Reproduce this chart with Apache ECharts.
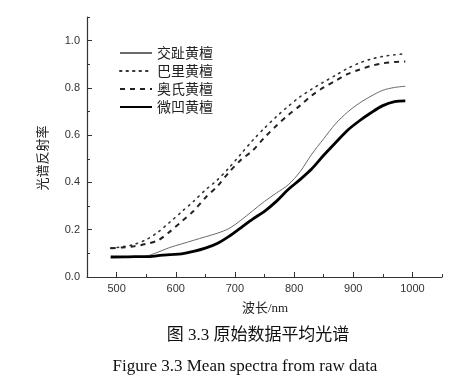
<!DOCTYPE html>
<html>
<head>
<meta charset="utf-8">
<script src="https://cdn.jsdelivr.net/npm/echarts@6/dist/echarts.min.js"></script>
<style>
html,body{margin:0;padding:0;background:#fff;}
#chart{width:469px;height:383px;}
</style>
</head>
<body>
<div id="chart"></div>
<script>
// Wavelength (nm)
const wavelengths = [490,510,530,550,570,590,610,630,650,670,690,710,730,750,770,790,810,830,850,870,890,910,930,950,970,988];
// Mean reflectance per species
const jiaozhi = [0.080,0.082,0.085,0.088,0.105,0.125,0.140,0.155,0.170,0.185,0.205,0.240,0.280,0.320,0.355,0.390,0.445,0.520,0.585,0.648,0.697,0.735,0.765,0.790,0.802,0.807];
const bali    = [0.122,0.128,0.138,0.158,0.190,0.232,0.276,0.320,0.368,0.410,0.462,0.520,0.578,0.630,0.678,0.722,0.762,0.795,0.825,0.853,0.882,0.905,0.922,0.933,0.940,0.945];
const aoshi   = [0.122,0.125,0.130,0.140,0.155,0.192,0.235,0.279,0.335,0.383,0.443,0.495,0.535,0.590,0.640,0.685,0.725,0.768,0.802,0.830,0.858,0.877,0.893,0.904,0.910,0.912];
const weiao   = [0.085,0.085,0.086,0.086,0.090,0.095,0.098,0.108,0.122,0.142,0.172,0.208,0.245,0.278,0.320,0.370,0.412,0.458,0.515,0.568,0.620,0.660,0.695,0.725,0.742,0.745];
const seriesNames = ['交趾黄檀','巴里黄檀','奥氏黄檀','微凹黄檀'];
// Tick labels
const xMajor = [500,600,700,800,900,1000];
const xMinor = [450,550,650,750,850,950,1050];
const yMajor = [0,0.2,0.4,0.6,0.8,1.0];
const yMinor = [0.1,0.3,0.5,0.7,0.9,1.1];

const pair = (ys) => wavelengths.map((w,i)=>[w, ys[i]]);

const chart = echarts.init(document.getElementById('chart'));
const axisColor = '#333';
const labelFont = {color:'#333', fontSize:11, fontFamily:'Liberation Sans, Arial, sans-serif'};

const option = {
  animation:false,
  backgroundColor:'#fff',
  grid:{left:87, right:27, top:17, bottom:106, containLabel:false},
  legend:{
    orient:'vertical', left:114, top:41, itemWidth:32, itemHeight:14, itemGap:4,
    itemStyle:{opacity:0},
    textStyle:{fontSize:14, color:'#222', fontFamily:'Noto Sans CJK SC, sans-serif'},
    data:seriesNames
  },
  xAxis:[{
    type:'value', min:450, max:1050,
    axisLine:{show:true, lineStyle:{color:axisColor, width:1.2}},
    axisTick:{show:true, inside:true, length:5, customValues:xMajor, lineStyle:{color:axisColor}},
    axisLabel:{customValues:xMajor, margin:6, formatter:(v)=>String(v), ...labelFont},
    splitLine:{show:false}
  },{
    type:'value', min:450, max:1050, position:'bottom',
    axisLine:{show:false},
    axisTick:{show:true, inside:true, length:3, customValues:xMinor, lineStyle:{color:axisColor}},
    axisLabel:{show:false},
    splitLine:{show:false}
  }],
  yAxis:[{
    type:'value', min:0, max:1.1,
    axisLine:{show:true, lineStyle:{color:axisColor, width:1.2}},
    axisTick:{show:true, inside:true, length:5, customValues:yMajor, lineStyle:{color:axisColor}},
    axisLabel:{customValues:yMajor, margin:7, formatter:(v)=>v.toFixed(1), ...labelFont},
    splitLine:{show:false}
  },{
    type:'value', min:0, max:1.1, position:'left',
    axisLine:{show:false},
    axisTick:{show:true, inside:true, length:3, customValues:yMinor, lineStyle:{color:axisColor}},
    axisLabel:{show:false},
    splitLine:{show:false}
  }],
  graphic:[
    {type:'text', x:42, y:158, rotation:Math.PI/2,
     style:{text:'光谱反射率', align:'center', verticalAlign:'middle', fontSize:13, fill:'#222', fontFamily:'Noto Sans CJK SC, sans-serif'}},
    {type:'text', x:265, y:309,
     style:{text:'波长/nm', align:'center', verticalAlign:'middle', fontSize:13, fill:'#222', fontFamily:'Liberation Serif, Noto Sans CJK SC, serif'}},
    {type:'text', x:258, y:336,
     style:{text:'图 3.3 原始数据平均光谱', align:'center', verticalAlign:'middle', fontSize:17, fill:'#111', fontFamily:'Liberation Serif, Noto Sans CJK SC, serif'}},
    {type:'text', x:245, y:367,
     style:{text:'Figure 3.3 Mean spectra from raw data', align:'center', verticalAlign:'middle', fontSize:17, fill:'#111', fontFamily:'Liberation Serif, Times New Roman, serif'}}
  ],
  series:[
    {name:seriesNames[0], type:'line', data:pair(jiaozhi), showSymbol:false, symbol:'none', smooth:0.3,
     lineStyle:{color:'#6a6a6a', width:1}, itemStyle:{color:'#6a6a6a'}},
    {name:seriesNames[1], type:'line', data:pair(bali), showSymbol:false, symbol:'none', smooth:0.3,
     lineStyle:{color:'#333', width:1.6, type:[1.5,5], cap:'round'}, itemStyle:{color:'#333'}},
    {name:seriesNames[2], type:'line', data:pair(aoshi), showSymbol:false, symbol:'none', smooth:0.3,
     lineStyle:{color:'#222', width:2, type:[5,5]}, itemStyle:{color:'#222'}},
    {name:seriesNames[3], type:'line', data:pair(weiao), showSymbol:false, symbol:'none', smooth:0.3,
     lineStyle:{color:'#000', width:2.8}, itemStyle:{color:'#000'}}
  ]
};
chart.setOption(option);
</script>
</body>
</html>
